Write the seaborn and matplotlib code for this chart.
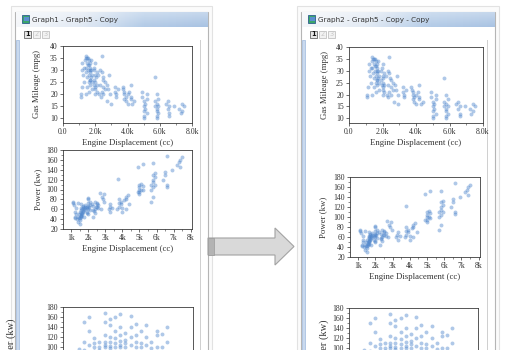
import matplotlib
matplotlib.use("Agg")
import matplotlib.pyplot as plt
import seaborn as sns
import numpy as np
import pandas as pd
from matplotlib.patches import Rectangle, Polygon
from matplotlib.ticker import FixedLocator, MultipleLocator, FixedFormatter

# ---------------- data ----------------
displacement = [
    1100, 1100, 1150, 1200, 1200, 1250, 1300, 1300,
    1350, 1400, 1400, 1450, 1500, 1500, 1500, 1550, 1550, 1600,
    1600, 1600, 1600, 1650, 1650, 1700, 1700, 1700, 1750, 1750,
    1800, 1800, 1800, 1500, 1600, 1700, 1450, 1550, 1650, 1400, 1750,
    1900, 1900, 1950, 2000, 2000, 2000, 2000, 2000, 2050, 2100,
    2100, 2100, 1950, 2000, 2200, 2250,
    2300, 2300, 2400, 2400, 2400, 2450, 2500, 2500, 2500, 2600,
    2600, 2350, 2700, 2800, 2850, 2900, 2950, 2750,
    3200, 3250, 3300, 3300, 3400,
    3700, 3750, 3800, 3800, 3800, 3900, 3900, 4000, 4000, 4100,
    4200, 4200, 4300, 4400, 4200,
    4900, 4900, 5000, 5000, 5000, 5000, 5100, 5100, 5200, 5200, 5000, 5200,
    5700, 5700, 5700, 5800, 5800, 5800, 5800, 5900, 5900, 5800, 5800, 5900,
    6400, 6500, 6500, 6600, 6600, 6600,
    6900, 7200, 7300, 7400, 7500, 7400,
]
mileage = [
    20, 19, 23, 30, 33, 28, 25, 31,
    34, 36, 31, 29, 35, 33, 27, 35, 30, 34,
    32, 28, 25, 33, 26, 31, 29, 24, 30, 27,
    28, 22, 25, 23, 21, 26, 35, 32, 30, 20, 34,
    30, 26, 24, 33, 28, 25, 22, 20, 27, 24,
    21, 29, 31, 23, 28, 20,
    30, 24, 29, 36, 21, 27, 26, 23, 20, 22,
    25, 19, 17, 22, 28, 20, 16, 24,
    23, 21, 19, 20, 22,
    23, 22, 20, 18, 21, 19, 17, 16, 20, 21,
    24, 18, 16, 17, 19,
    21, 19, 17, 15, 13, 11, 16, 14, 12, 18, 10, 20,
    27, 17, 15, 13, 11, 16, 14, 12, 18, 20, 10, 15,
    16, 17, 14, 12, 11, 15,
    15, 14, 12, 16, 15, 13,
]
power = [
    72, 75, 68, 45, 42, 55, 62, 50,
    40, 35, 45, 50, 38, 42, 55, 44, 48, 46,
    52, 58, 62, 50, 60, 54, 56, 64, 58, 62,
    60, 68, 65, 30, 70, 66, 43, 47, 53, 72, 45,
    55, 62, 65, 50, 60, 66, 72, 80, 64, 68,
    75, 58, 52, 82, 70, 45,
    58, 66, 60, 52, 74, 64, 70, 72, 65, 68,
    62, 56, 92, 85, 80, 90, 75, 60,
    60, 65, 55, 70, 62,
    60, 122, 72, 65, 80, 70, 75, 62, 55, 78,
    85, 60, 88, 70, 80,
    95, 146, 100, 110, 105, 90, 112, 100, 98, 108, 95, 152,
    75, 100, 110, 120, 130, 115, 105, 125, 133, 85, 153, 110,
    120, 130, 136, 110, 106, 168,
    140, 150, 155, 160, 165, 145,
]
# third (partly hidden) graph: power by model year
year3 = [1986, 1986, 1986, 1987, 1987, 1987, 1988, 1988, 1988, 1988,
         1989, 1989, 1989, 1989, 1990, 1990, 1990,
         1991, 1991, 1991, 1991, 1991, 1991,
         1992, 1992, 1992, 1992, 1992, 1992,
         1993, 1993, 1993, 1993, 1993,
         1994, 1994, 1994, 1994, 1994, 1994,
         1995, 1995, 1995, 1995, 1996, 1996, 1996, 1996,
         1997, 1997, 1997, 1997, 1998, 1998, 1998,
         1999, 1999, 1999, 2000, 2000, 2001, 2001, 2001,
         2002, 2002, 2003, 2003]
power3 = [97, 85, 70, 150, 110, 95, 160, 133, 105, 90,
          118, 108, 100, 92, 110, 100, 95,
          168, 150, 125, 110, 105, 100,
          157, 145, 120, 110, 102, 98,
          160, 133, 118, 108, 100,
          167, 140, 125, 112, 105, 100,
          128, 115, 108, 100, 163, 140, 120, 105,
          147, 125, 110, 100, 132, 108, 100,
          145, 120, 104, 110, 98, 133, 125, 100,
          127, 100, 140, 110]

x1_ticks = [0, 2000, 4000, 6000, 8000]
x1_labels = ["0.0", "2.0k", "4.0k", "6.0k", "8.0k"]
x2_ticks = [1000, 2000, 3000, 4000, 5000, 6000, 7000, 8000]
x2_labels = ["1k", "2k", "3k", "4k", "5k", "6k", "7k", "8k"]
y1_ticks = [10, 15, 20, 25, 30, 35, 40]
y2_ticks = [20, 40, 60, 80, 100, 120, 140, 160, 180]
y3_ticks = [100, 120, 140, 160, 180]   # the part of graph 3 that is on the page

cars = pd.DataFrame({"disp": displacement, "mpg": mileage, "kw": power})
yr = pd.DataFrame({"year": year3, "kw": power3})

# ---------------- figure ----------------
W, H = 509, 350
sns.set_theme(style="white")
plt.rcParams['font.family'] = ['Liberation Serif', 'DejaVu Serif']

fig = plt.figure(figsize=(W / 100, H / 100), dpi=100)
fig.patch.set_facecolor('white')

def fx(x):
    return x / W

def fy(y):
    return 1 - y / H

def rect(x0, y0, x1, y1, z=-5, **kw):
    fig.patches.append(Rectangle((fx(x0), fy(y1)), (x1 - x0) / W, (y1 - y0) / H,
                                 transform=fig.transFigure, figure=fig, zorder=z, **kw))

def window(x0, x1, title):
    # outer faint frame
    rect(x0 - 4, 6, x1 + 4, 360, fc='#fbfbfb', ec='#e2e2e2', lw=0.8, z=-9)
    rect(x0, 12, x1, 360, fc='white', ec='#b5b5b5', lw=0.8, z=-8)
    # title bar gradient
    tax = fig.add_axes([fx(x0 + 0.5), fy(27), (x1 - x0 - 1) / W, 15 / H], zorder=-4)
    grad = np.linspace(0, 1, 256).reshape(1, -1)
    cmap = matplotlib.colors.LinearSegmentedColormap.from_list(
        "tb", ["#f5f7fa", "#e2eaf4", "#b3cbe7", "#a9c3e3"])
    tax.imshow(grad, aspect='auto', cmap=cmap, extent=[0, 1, 0, 1])
    tax.imshow(np.linspace(1, 0, 32).reshape(-1, 1), aspect='auto',
               cmap=matplotlib.colors.LinearSegmentedColormap.from_list(
                   "sh", [(1, 1, 1, 0), (1, 1, 1, 0.35)]), extent=[0, 1, 0, 1])
    tax.set_axis_off()
    # icon
    rect(x0 + 7, 15, x0 + 14, 23, z=-3, fc='#3aa66a', ec='#2d5f8f', lw=0.6)
    rect(x0 + 9, 17, x0 + 14, 21, z=-2, fc='#5b8fd0', ec='none')
    fig.text(fx(x0 + 17), fy(20), title, fontsize=5.2, family=['DejaVu Sans'],
             color='#333333', ha='left', va='center')
    # page tabs
    for i, lab in enumerate(["1", "2", "3"]):
        bx = x0 + 9 + i * 9
        if i == 0:
            rect(bx, 31, bx + 7, 38, z=-3, fc='#e6e6e6', ec='#666666', lw=0.6)
            fig.text(fx(bx + 3.5), fy(34.5), lab, fontsize=4.8, weight='bold',
                     family=['DejaVu Sans'], color='#111111', ha='center', va='center')
        else:
            rect(bx, 31, bx + 7, 38, z=-3, fc='#f2f2f2', ec='#c2c2c2', lw=0.6)
            fig.text(fx(bx + 3.5), fy(34.5), lab, fontsize=4.8,
                     family=['DejaVu Sans'], color='#c8c8c8', ha='center', va='center')
    # left blue strip and right border line
    rect(x0 + 1, 40, x0 + 4, 360, z=-3, fc='#c9d9ee', ec='#9fb9dd', lw=0.5)
    rect(x1 - 8, 40, x1 - 7.5, 360, z=-3, fc='#d0d0d0', ec='none')

window(15, 208, "Graph1 - Graph5 - Copy")
window(301, 495, "Graph2 - Graph5 - Copy - Copy")

# arrow between the windows
arrow_pts = [(208, 238), (275, 238), (275, 228), (294, 246.5), (275, 265), (275, 255), (208, 255)]
fig.patches.append(Polygon([(fx(a), fy(b)) for a, b in arrow_pts], closed=True,
                           transform=fig.transFigure, figure=fig, zorder=-1,
                           fc='#d9d9d9', ec='#a3a3a3', lw=0.8))
rect(208, 238, 214, 255, z=0, fc='#b3b3b3', ec='#9a9a9a', lw=0.5)

PT_COLOR = '#4f86cc'

def make_ax(x0, y0, x1, y1):
    ax = fig.add_axes([fx(x0), fy(y1), (x1 - x0) / W, (y1 - y0) / H])
    ax.set_facecolor('white')
    for s in ax.spines.values():
        s.set_color('#3a3a3a')
        s.set_linewidth(0.6)
    ax.tick_params(which='major', direction='out', length=2.5, width=0.5,
                   labelsize=5.6, pad=1.2, colors='#333333',
                   bottom=True, left=True, top=False, right=False)
    ax.tick_params(which='minor', direction='out', length=1.4, width=0.4,
                   colors='#333333', bottom=True, left=True, top=False, right=False)
    return ax

def ylabel_at(ax, text, x0, x1, right_px):
    ax.set_ylabel(text, fontsize=6.3, color='#333333')
    ax.yaxis.set_label_coords((right_px - x0) / (x1 - x0), 0.5)

def mileage_plot(x0, y0, x1, y1, ylab_px):
    ax = make_ax(x0, y0, x1, y1)
    sns.scatterplot(data=cars, x="disp", y="mpg", ax=ax, s=8, color=PT_COLOR,
                    alpha=0.45, linewidth=0, legend=False)
    ax.set_xlim(0, 8000)
    ax.set_ylim(8, 40)
    ax.xaxis.set_major_locator(FixedLocator(x1_ticks))
    ax.xaxis.set_major_formatter(FixedFormatter(x1_labels))
    ax.xaxis.set_minor_locator(MultipleLocator(1000))
    ax.yaxis.set_major_locator(FixedLocator(y1_ticks))
    ax.set_xlabel("Engine Displacement (cc)", fontsize=6.3, color='#333333', labelpad=2)
    ylabel_at(ax, "Gas Mileage (mpg)", x0, x1, ylab_px)
    return ax

def power_plot(x0, y0, x1, y1, ylab_px):
    ax = make_ax(x0, y0, x1, y1)
    sns.scatterplot(data=cars, x="disp", y="kw", ax=ax, s=8, color=PT_COLOR,
                    alpha=0.45, linewidth=0, legend=False)
    ax.set_xlim(520, 8080)
    ax.set_ylim(20, 180)
    ax.xaxis.set_major_locator(FixedLocator(x2_ticks))
    ax.xaxis.set_major_formatter(FixedFormatter(x2_labels))
    ax.xaxis.set_minor_locator(MultipleLocator(500))
    ax.yaxis.set_major_locator(FixedLocator(y2_ticks))
    ax.yaxis.set_minor_locator(MultipleLocator(10))
    ax.set_xlabel("Engine Displacement (cc)", fontsize=6.3, color='#333333', labelpad=2)
    ylabel_at(ax, "Power (kw)", x0, x1, ylab_px)
    return ax

def year_plot(x0, y0, x1, y1, ylab_px):
    ax = make_ax(x0, y0, x1, y1)
    sns.scatterplot(data=yr, x="year", y="kw", ax=ax, s=8, color=PT_COLOR,
                    alpha=0.45, linewidth=0, legend=False)
    ax.set_xlim(1983, 2008)
    ax.set_ylim(20, 180)
    ax.yaxis.set_major_locator(FixedLocator(y3_ticks))
    ax.yaxis.set_minor_locator(FixedLocator([110, 130, 150, 170]))
    # the x axis of this graph lies below the visible page
    ax.tick_params(axis='x', which='both', labelbottom=False, bottom=False)
    ax.set_xlabel("")
    ax.set_ylabel("Power (kw)", fontsize=7.5, color='#333333')
    ax.yaxis.set_label_coords((ylab_px - x0) / (x1 - x0), 0.55)
    return ax

# left window
mileage_plot(63, 46, 192, 123, 41)
power_plot(63, 150, 192, 229, 42)
year_plot(63, 307, 193, 387, 16)

# right window
mileage_plot(349, 47, 483, 123, 329)
power_plot(350, 177, 480, 257, 327)
year_plot(349, 308, 478, 388, 329)

fig.savefig("out.png", dpi=100, facecolor='white')
